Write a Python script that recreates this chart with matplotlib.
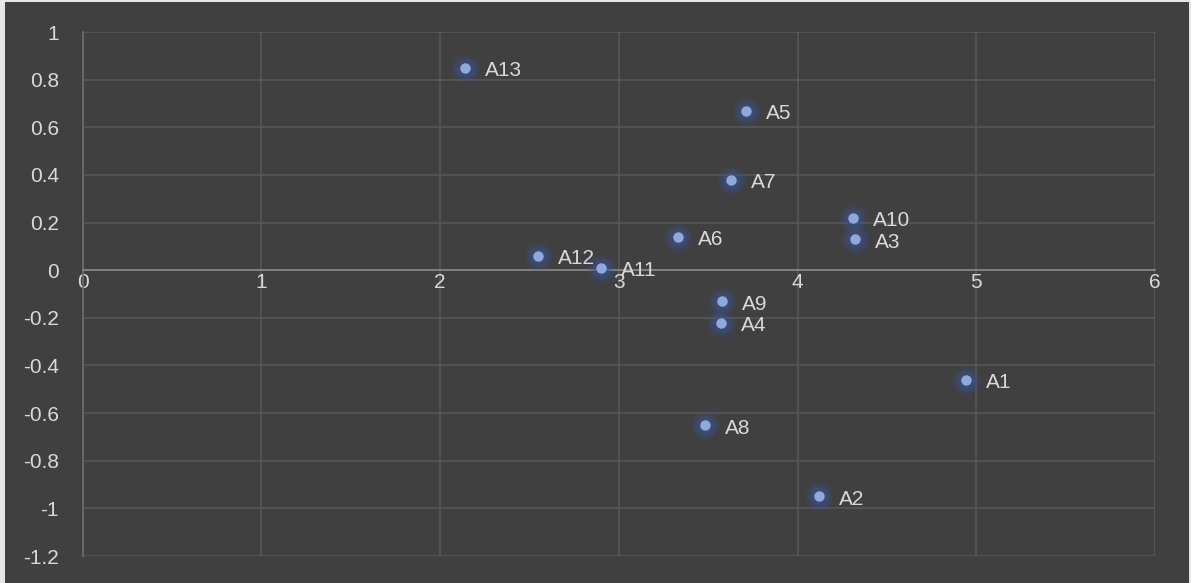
import matplotlib
matplotlib.use("Agg")
import matplotlib.pyplot as plt
from matplotlib.patches import Rectangle

# Point names and coordinates
labels = ["A1", "A2", "A3", "A4", "A5", "A6", "A7", "A8", "A9", "A10", "A11", "A12", "A13"]
x_vals = [4.94, 4.12, 4.32, 3.57, 3.71, 3.33, 3.63, 3.48, 3.58, 4.31, 2.90, 2.55, 2.14]
y_vals = [-0.46, -0.95, 0.13, -0.22, 0.67, 0.14, 0.38, -0.65, -0.13, 0.22, 0.01, 0.06, 0.85]

x_ticks = [0, 1, 2, 3, 4, 5, 6]
y_ticks = [1, 0.8, 0.6, 0.4, 0.2, 0, -0.2, -0.4, -0.6, -0.8, -1, -1.2]

BG = "#404040"
GRID = "#595959"
TEXT = "#d9d9d9"
W, H = 1191, 583

plt.rcParams["font.family"] = ["Liberation Sans", "DejaVu Sans"]

fig = plt.figure(figsize=(W / 100, H / 100), dpi=100)
fig.patch.set_facecolor("#e6e6e6")
fig.patches.append(Rectangle((5 / W, 0), (1189 - 5) / W, (H - 2) / H,
                             transform=fig.transFigure, facecolor=BG,
                             edgecolor="none", zorder=-10))

ax = fig.add_axes([82.5 / W, 1 - 556 / H, (1155 - 82.5) / W, (556 - 32) / H])
ax.set_facecolor(BG)
ax.set_xlim(0, 6)
ax.set_ylim(-1.2, 1)
ax.set_xticks(x_ticks)
ax.set_yticks(y_ticks)
ax.set_xticklabels([f"{t:g}" for t in x_ticks])
ax.set_yticklabels([f"{t:g}" for t in y_ticks])
ax.grid(True, color=GRID, linewidth=1.1, zorder=1)
ax.set_axisbelow(True)

for s in ["top", "right"]:
    ax.spines[s].set_visible(False)
ax.spines["bottom"].set_position(("data", 0))
ax.spines["bottom"].set_color("#8a8a8a")
ax.spines["bottom"].set_linewidth(1.2)
ax.spines["left"].set_color("#6e6e6e")
ax.spines["left"].set_linewidth(1.2)
ax.tick_params(axis="both", length=0, colors=TEXT, labelsize=15)
ax.tick_params(axis="y", pad=17)
ax.tick_params(axis="x", pad=2)

# soft glow around each marker
for size, alpha in [(20, 0.18), (16, 0.25), (12, 0.35)]:
    ax.scatter(x_vals, y_vals, s=size ** 2, color="#3a5696", alpha=alpha,
               linewidths=0, zorder=3)
ax.scatter(x_vals, y_vals, s=7.5 ** 2, color="#8eaadc", linewidths=0, zorder=4)

for lab, xv, yv in zip(labels, x_vals, y_vals):
    ax.annotate(lab, (xv, yv), xytext=(20, -3), textcoords="offset pixels",
                ha="left", va="center", color=TEXT, fontsize=15, zorder=5)

fig.savefig("out.png", dpi=100, facecolor=fig.get_facecolor())
